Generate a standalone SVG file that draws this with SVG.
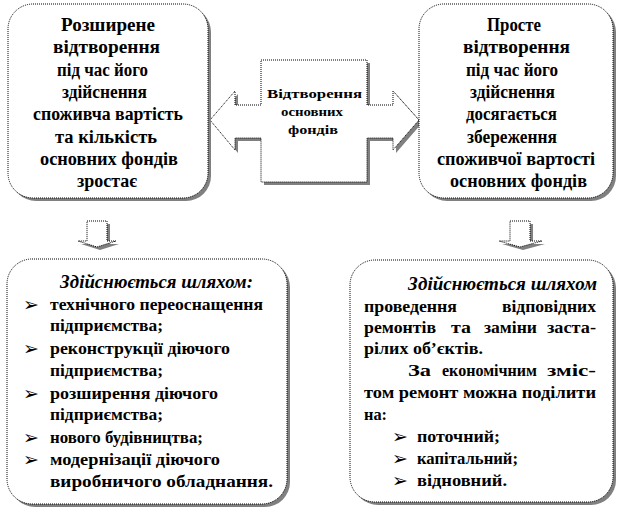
<svg xmlns="http://www.w3.org/2000/svg" width="619" height="512" viewBox="0 0 619 512" font-family="Liberation Serif, Times New Roman, DejaVu Serif, serif">
<style>
.sh{fill:#808080;stroke:none}
.bx{fill:#fff;stroke:#000;stroke-width:1;stroke-dasharray:1 1}
text{font-size:18px;fill:#000;font-weight:bold}
.c{text-anchor:middle}
.bi{font-style:italic;font-size:19px}
.e{text-anchor:end}
.m{font-size:13px}
.s{font-size:17px}
.u{font-size:19px;font-weight:normal}
</style>
<rect width="619" height="512" fill="#fff"/>
<g id="connectors">
  <g id="arrow-left-down">
    <path class="sh" d="M90,224 H110 V244 H119 L100,250 L81,244 H90 Z"/>
    <path class="bx" d="M87,221 H107 V241 H116 L97,247 L78,241 H87 Z"/>
  </g>
  <g id="arrow-right-down">
    <path class="sh" d="M513,224 H533 V244 H545 L523,250 L502,244 H513 Z"/>
    <path class="bx" d="M510,221 H530 V241 H542 L520,247 L499,241 H510 Z"/>
  </g>
</g>
<g id="center">
  <path class="sh" d="M264,63 H370 V108 H396 V94 L422,123 L396,153 V141 H370 V185 H264 V141 H238 V153 L213,123 L238,94 V108 H264 Z"/>
  <path class="bx" d="M261,60 H367 V105 H393 V91 L419,120 L393,150 V138 H367 V182 H261 V138 H235 V150 L210,120 L235,91 V105 H261 Z"/>
  <text class="m" x="267" y="98" textLength="95" lengthAdjust="spacingAndGlyphs">Відтворення</text>
  <text class="m" x="281" y="116" textLength="62" lengthAdjust="spacingAndGlyphs">основних</text>
  <text class="m" x="288" y="134" textLength="50" lengthAdjust="spacingAndGlyphs">фондів</text>
</g>
<g id="top-left">
  <rect class="sh" x="11" y="7" width="200" height="194" rx="25"/>
  <rect class="bx" x="8" y="4" width="200" height="194" rx="25"/>
  <text x="61" y="31" textLength="94" lengthAdjust="spacingAndGlyphs">Розширене</text>
  <text x="53" y="53" textLength="107" lengthAdjust="spacingAndGlyphs">відтворення</text>
  <text x="57" y="76" textLength="91" lengthAdjust="spacingAndGlyphs">під час його</text>
  <text x="62" y="98" textLength="85" lengthAdjust="spacingAndGlyphs">здійснення</text>
  <text x="33" y="120" textLength="150" lengthAdjust="spacingAndGlyphs">споживча вартість</text>
  <text x="55" y="143" textLength="102" lengthAdjust="spacingAndGlyphs">та кількість</text>
  <text x="40" y="165" textLength="138" lengthAdjust="spacingAndGlyphs">основних фондів</text>
  <text x="77" y="187" textLength="60" lengthAdjust="spacingAndGlyphs">зростає</text>
</g>
<g id="top-right">
  <rect class="sh" x="422" y="7" width="194" height="194" rx="25"/>
  <rect class="bx" x="419" y="4" width="194" height="194" rx="25"/>
  <text x="487" y="31" textLength="54" lengthAdjust="spacingAndGlyphs">Просте</text>
  <text x="463" y="53" textLength="107" lengthAdjust="spacingAndGlyphs">відтворення</text>
  <text x="466" y="76" textLength="92" lengthAdjust="spacingAndGlyphs">під час його</text>
  <text x="470" y="98" textLength="85" lengthAdjust="spacingAndGlyphs">здійснення</text>
  <text x="466" y="120" textLength="91" lengthAdjust="spacingAndGlyphs">досягається</text>
  <text x="467" y="143" textLength="90" lengthAdjust="spacingAndGlyphs">збереження</text>
  <text x="437" y="165" textLength="158" lengthAdjust="spacingAndGlyphs">споживчої вартості</text>
  <text x="450" y="187" textLength="137" lengthAdjust="spacingAndGlyphs">основних фондів</text>
</g>
<g id="bottom-left">
  <rect class="sh" x="10" y="262" width="280" height="245" rx="25"/>
  <rect class="bx" x="7" y="259" width="280" height="245" rx="25"/>
  <text class="bi" x="60" y="288" textLength="193" lengthAdjust="spacingAndGlyphs">Здійснюється шляхом:</text>
  <text class="u" x="23" y="311">➢</text><text class="s" x="50" y="310" textLength="213" lengthAdjust="spacingAndGlyphs">технічного переоснащення</text>
  <text class="s" x="50" y="331" textLength="113" lengthAdjust="spacingAndGlyphs">підприємства;</text>
  <text class="u" x="23" y="355">➢</text><text class="s" x="50" y="354" textLength="180" lengthAdjust="spacingAndGlyphs">реконструкції діючого</text>
  <text class="s" x="50" y="376" textLength="113" lengthAdjust="spacingAndGlyphs">підприємства;</text>
  <text class="u" x="23" y="400">➢</text><text class="s" x="50" y="399" textLength="168" lengthAdjust="spacingAndGlyphs">розширення діючого</text>
  <text class="s" x="50" y="420" textLength="113" lengthAdjust="spacingAndGlyphs">підприємства;</text>
  <text class="u" x="23" y="444">➢</text><text class="s" x="50" y="443" textLength="153" lengthAdjust="spacingAndGlyphs">нового будівництва;</text>
  <text class="u" x="23" y="466">➢</text><text class="s" x="50" y="465" textLength="170" lengthAdjust="spacingAndGlyphs">модернізації діючого</text>
  <text class="s" x="50" y="487" textLength="223" lengthAdjust="spacingAndGlyphs">виробничого обладнання.</text>
</g>
<g id="bottom-right">
  <rect class="sh" x="353" y="263" width="263" height="242" rx="25"/>
  <rect class="bx" x="350" y="260" width="263" height="242" rx="25"/>
  <text class="bi" x="408" y="290" textLength="189" lengthAdjust="spacingAndGlyphs">Здійснюється шляхом</text>
  <text class="s" x="364" y="312" textLength="93" lengthAdjust="spacingAndGlyphs">проведення</text><text class="s" x="502" y="312" textLength="94" lengthAdjust="spacingAndGlyphs">відповідних</text>
  <text class="s" x="364" y="333" textLength="72" lengthAdjust="spacingAndGlyphs">ремонтів</text><text class="s" x="451" y="333" textLength="20" lengthAdjust="spacingAndGlyphs">та</text><text class="s" x="484" y="333" textLength="53" lengthAdjust="spacingAndGlyphs">заміни</text><text class="s" x="547" y="333" textLength="49" lengthAdjust="spacingAndGlyphs">заста-</text>
  <text class="s" x="364" y="354" textLength="119" lengthAdjust="spacingAndGlyphs">рілих об’єктів.</text>
  <text class="s" x="408" y="376" textLength="23" lengthAdjust="spacingAndGlyphs">За</text><text class="s" x="442" y="376" textLength="95" lengthAdjust="spacingAndGlyphs">економічним</text><text class="s" x="547" y="376" textLength="49" lengthAdjust="spacingAndGlyphs">зміс-</text>
  <text class="s" x="364" y="398" textLength="232" lengthAdjust="spacingAndGlyphs">том ремонт можна поділити</text>
  <text class="s" x="364" y="420" textLength="23" lengthAdjust="spacingAndGlyphs">на:</text>
  <text class="u" x="392" y="443">➢</text><text class="s" x="417" y="442" textLength="83" lengthAdjust="spacingAndGlyphs">поточний;</text>
  <text class="u" x="392" y="465">➢</text><text class="s" x="417" y="464" textLength="101" lengthAdjust="spacingAndGlyphs">капітальний;</text>
  <text class="u" x="392" y="487">➢</text><text class="s" x="417" y="486" textLength="90" lengthAdjust="spacingAndGlyphs">відновний.</text>
</g>
</svg>
